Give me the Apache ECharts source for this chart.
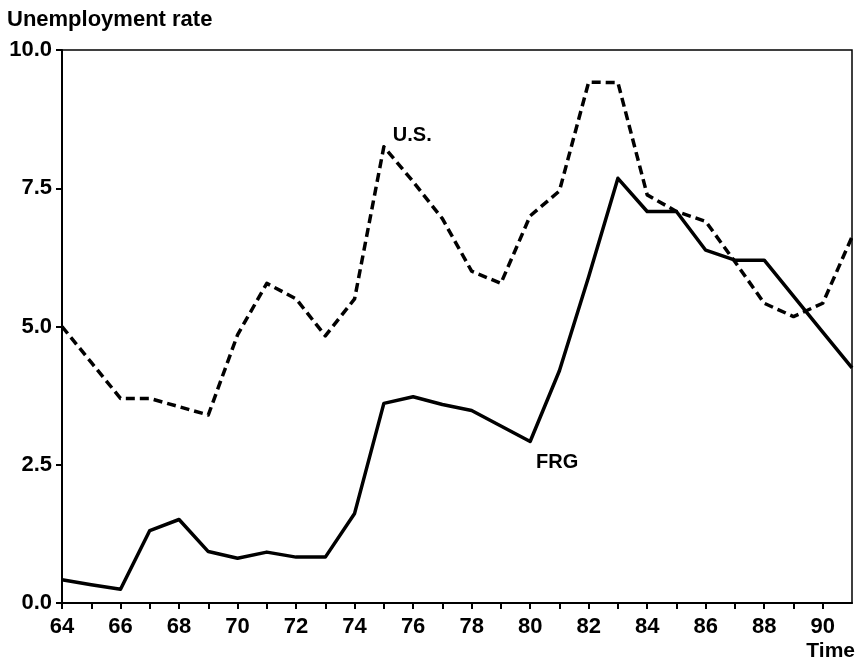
<!DOCTYPE html>
<html>
<head>
<meta charset="utf-8">
<script src="https://cdn.jsdelivr.net/npm/echarts@6/dist/echarts.min.js"></script>
<style>
  html, body { margin: 0; padding: 0; background: #fff; }
  #chart { width: 858px; height: 664px; }
</style>
</head>
<body>
<div id="chart"></div>
<script>
const years = [64, 65, 66, 67, 68, 69, 70, 71, 72, 73, 74, 75, 76, 77,
  78, 79, 80, 81, 82, 83, 84, 85, 86, 87, 88, 89, 90, 91]
const usRate = [5.0, 4.35, 3.7, 3.7, 3.55, 3.4, 4.85, 5.78, 5.5, 4.83, 5.5, 8.25, 7.62, 6.95,
  6.0, 5.78, 7.0, 7.45, 9.42, 9.41, 7.38, 7.08, 6.9, 6.17, 5.42, 5.18, 5.42, 6.62]
const frgRate = [0.42, 0.33, 0.25, 1.31, 1.51, 0.93, 0.81, 0.92, 0.83, 0.83, 1.62, 3.61, 3.73, 3.59,
  3.48, 3.2, 2.92, 4.2, 5.9, 7.68, 7.08, 7.08, 6.38, 6.2, 6.2, 5.55, 4.9, 4.25]
const yTicks = [0, 2.5, 5, 7.5, 10]

const font = 'Liberation Sans'
const ink = '#000'

// only the labelled year gets a (zero-size) symbol so its label is drawn
const toPairs = (vals, labelYear, label) =>
  years.map((yr, i) => {
    const item = { value: [yr, vals[i]] }
    if (yr === labelYear) item.label = label
    return item
  })

const chart = echarts.init(document.getElementById('chart'))

chart.setOption({
  backgroundColor: '#fff',
  animation: false,
  grid: {
    left: 62, right: 6, top: 50, bottom: 61,
    show: true,
    borderColor: ink,
    borderWidth: 1.5,
  },
  xAxis: {
    type: 'value',
    min: 64,
    max: 91,
    interval: 1,
    axisLine: { lineStyle: { color: ink, width: 2 } },
    axisTick: { show: true, inside: false, length: 6, lineStyle: { color: ink, width: 2 } },
    splitLine: { show: false },
    axisLabel: {
      margin: 13,
      color: ink,
      fontFamily: font,
      fontWeight: 'bold',
      fontSize: 22,
      showMaxLabel: false,
      formatter: v => (v % 2 === 0 ? String(v) : ''),
    },
  },
  yAxis: {
    type: 'value',
    min: yTicks[0],
    max: yTicks[yTicks.length - 1],
    interval: 2.5,
    axisLine: { show: true, lineStyle: { color: ink, width: 2 } },
    axisTick: { show: true, inside: false, length: 6, lineStyle: { color: ink, width: 2 } },
    splitLine: { show: false },
    axisLabel: {
      margin: 10,
      color: ink,
      fontFamily: font,
      fontWeight: 'bold',
      fontSize: 22,
      formatter: v => v.toFixed(1),
    },
  },
  graphic: [
    {
      type: 'text', left: 7, top: 9,
      style: { text: 'Unemployment rate', fill: ink, font: `bold 22px "${font}"` },
    },
    {
      type: 'text', right: 3, top: 641,
      style: { text: 'Time', fill: ink, font: `bold 21px "${font}"` },
    },
  ],
  series: [
    {
      name: 'U.S.',
      type: 'line',
      showSymbol: true,
      symbol: 'circle',
      symbolSize: 0,
      lineStyle: { color: ink, width: 3.5, type: [9, 5], join: 'round' },
      data: toPairs(usRate, 75, {
        show: true, formatter: 'U.S.', position: 'right', offset: [4, -11],
        color: ink, fontFamily: font, fontWeight: 'bold', fontSize: 20,
      }),
    },
    {
      name: 'FRG',
      type: 'line',
      showSymbol: true,
      symbol: 'circle',
      symbolSize: 0,
      lineStyle: { color: ink, width: 3.5, join: 'round' },
      data: toPairs(frgRate, 80, {
        show: true, formatter: 'FRG', position: 'bottom', offset: [27, 6],
        color: ink, fontFamily: font, fontWeight: 'bold', fontSize: 20,
      }),
    },
  ],
})
</script>
</body>
</html>
